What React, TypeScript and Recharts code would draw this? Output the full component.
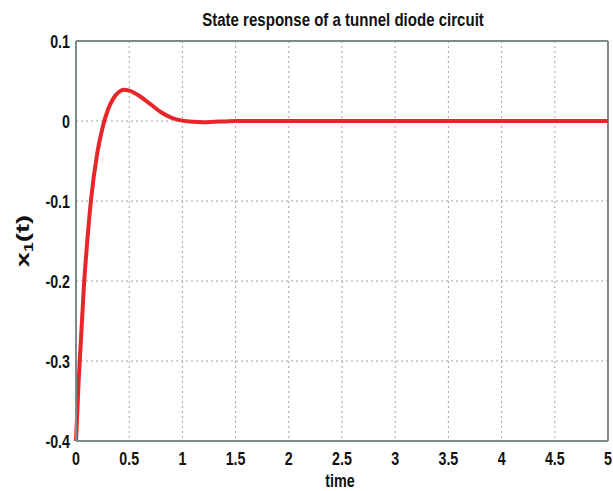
import { LineChart, Line, XAxis, YAxis, CartesianGrid, ReferenceLine } from "recharts";

const times = [0, 0.025, 0.05, 0.075, 0.1, 0.14, 0.2, 0.25, 0.3, 0.35, 0.4, 0.45, 0.5, 0.6, 0.7, 0.8, 0.9, 1.0, 1.1, 1.2, 1.3, 1.4, 1.5, 2, 2.5, 3, 3.5, 4, 4.5, 5];
const x1 = [-0.4, -0.325, -0.265, -0.205, -0.16, -0.1, -0.04, -0.008, 0.014, 0.028, 0.036, 0.039, 0.038, 0.031, 0.021, 0.011, 0.004, 0.0005, -0.001, -0.0015, -0.001, -0.0005, 0, 0, 0, 0, 0, 0, 0, 0];
const xTicks = [0, 0.5, 1, 1.5, 2, 2.5, 3, 3.5, 4, 4.5, 5];
const yTicks = [-0.4, -0.3, -0.2, -0.1, 0, 0.1];

const data = times.map((t, i) => ({ t, x1: x1[i] }));

const font = "'Liberation Sans', Arial, sans-serif";
const axisColor = "#7d8b8d";
const gridColor = "#9aa5a7";

const XTick = (props: any) => {
  const { x, y, payload } = props;
  return (
    <text
      transform={`translate(${x},${y + 24}) scale(0.75,1)`}
      textAnchor="middle"
      fontFamily={font}
      fontWeight="bold"
      fontSize={19}
      fill="#111"
    >
      {String(payload.value)}
    </text>
  );
};

const YTick = (props: any) => {
  const { x, y, payload } = props;
  return (
    <text
      transform={`translate(${x},${y + 7}) scale(0.75,1)`}
      textAnchor="end"
      fontFamily={font}
      fontWeight="bold"
      fontSize={19}
      fill="#111"
    >
      {String(payload.value)}
    </text>
  );
};

const App = () => {
  return (
    <div style={{ position: "absolute", left: 0, top: 0, width: 613, height: 491, background: "#fff" }}>
      <LineChart width={613} height={491} data={data} margin={{ top: 41, right: 5, bottom: 0, left: 0 }}>
        <text
          transform="translate(343,26) scale(0.86,1)"
          textAnchor="middle"
          fontFamily={font}
          fontWeight="bold"
          fontSize={17.5}
          fill="#111"
        >
          State response of a tunnel diode circuit
        </text>
        <text
          transform="translate(29,241) rotate(-90) scale(1.45,1)"
          textAnchor="middle"
          fontFamily={font}
          fontWeight="bold"
          fontSize={19}
          fill="#111"
        >
          x<tspan fontSize={12} dy={4}>1</tspan>
          <tspan dy={-4}>(t)</tspan>
        </text>
        <text
          transform="translate(340,487) scale(0.8,1)"
          textAnchor="middle"
          fontFamily={font}
          fontWeight="bold"
          fontSize={18}
          fill="#111"
        >
          time
        </text>
        <CartesianGrid stroke={gridColor} strokeDasharray="2 3" strokeWidth={1} />
        <XAxis
          dataKey="t"
          type="number"
          domain={[0, 5]}
          ticks={xTicks}
          height={50}
          tick={<XTick />}
          tickLine={false}
          axisLine={{ stroke: axisColor, strokeWidth: 2 }}
          tickMargin={0}
          tickSize={0}
        />
        <YAxis
          type="number"
          domain={[-0.4, 0.1]}
          ticks={yTicks}
          width={76}
          tick={<YTick />}
          tickLine={false}
          axisLine={{ stroke: axisColor, strokeWidth: 2 }}
          tickMargin={6}
          tickSize={0}
        />
        <ReferenceLine y={0.1} stroke={axisColor} strokeWidth={2} />
        <ReferenceLine x={5} stroke={axisColor} strokeWidth={2} />
        <Line
          type="monotone"
          dataKey="x1"
          stroke="#e8262a"
          strokeWidth={4}
          dot={false}
          isAnimationActive={false}
        />
      </LineChart>
    </div>
  );
};

export default App;
